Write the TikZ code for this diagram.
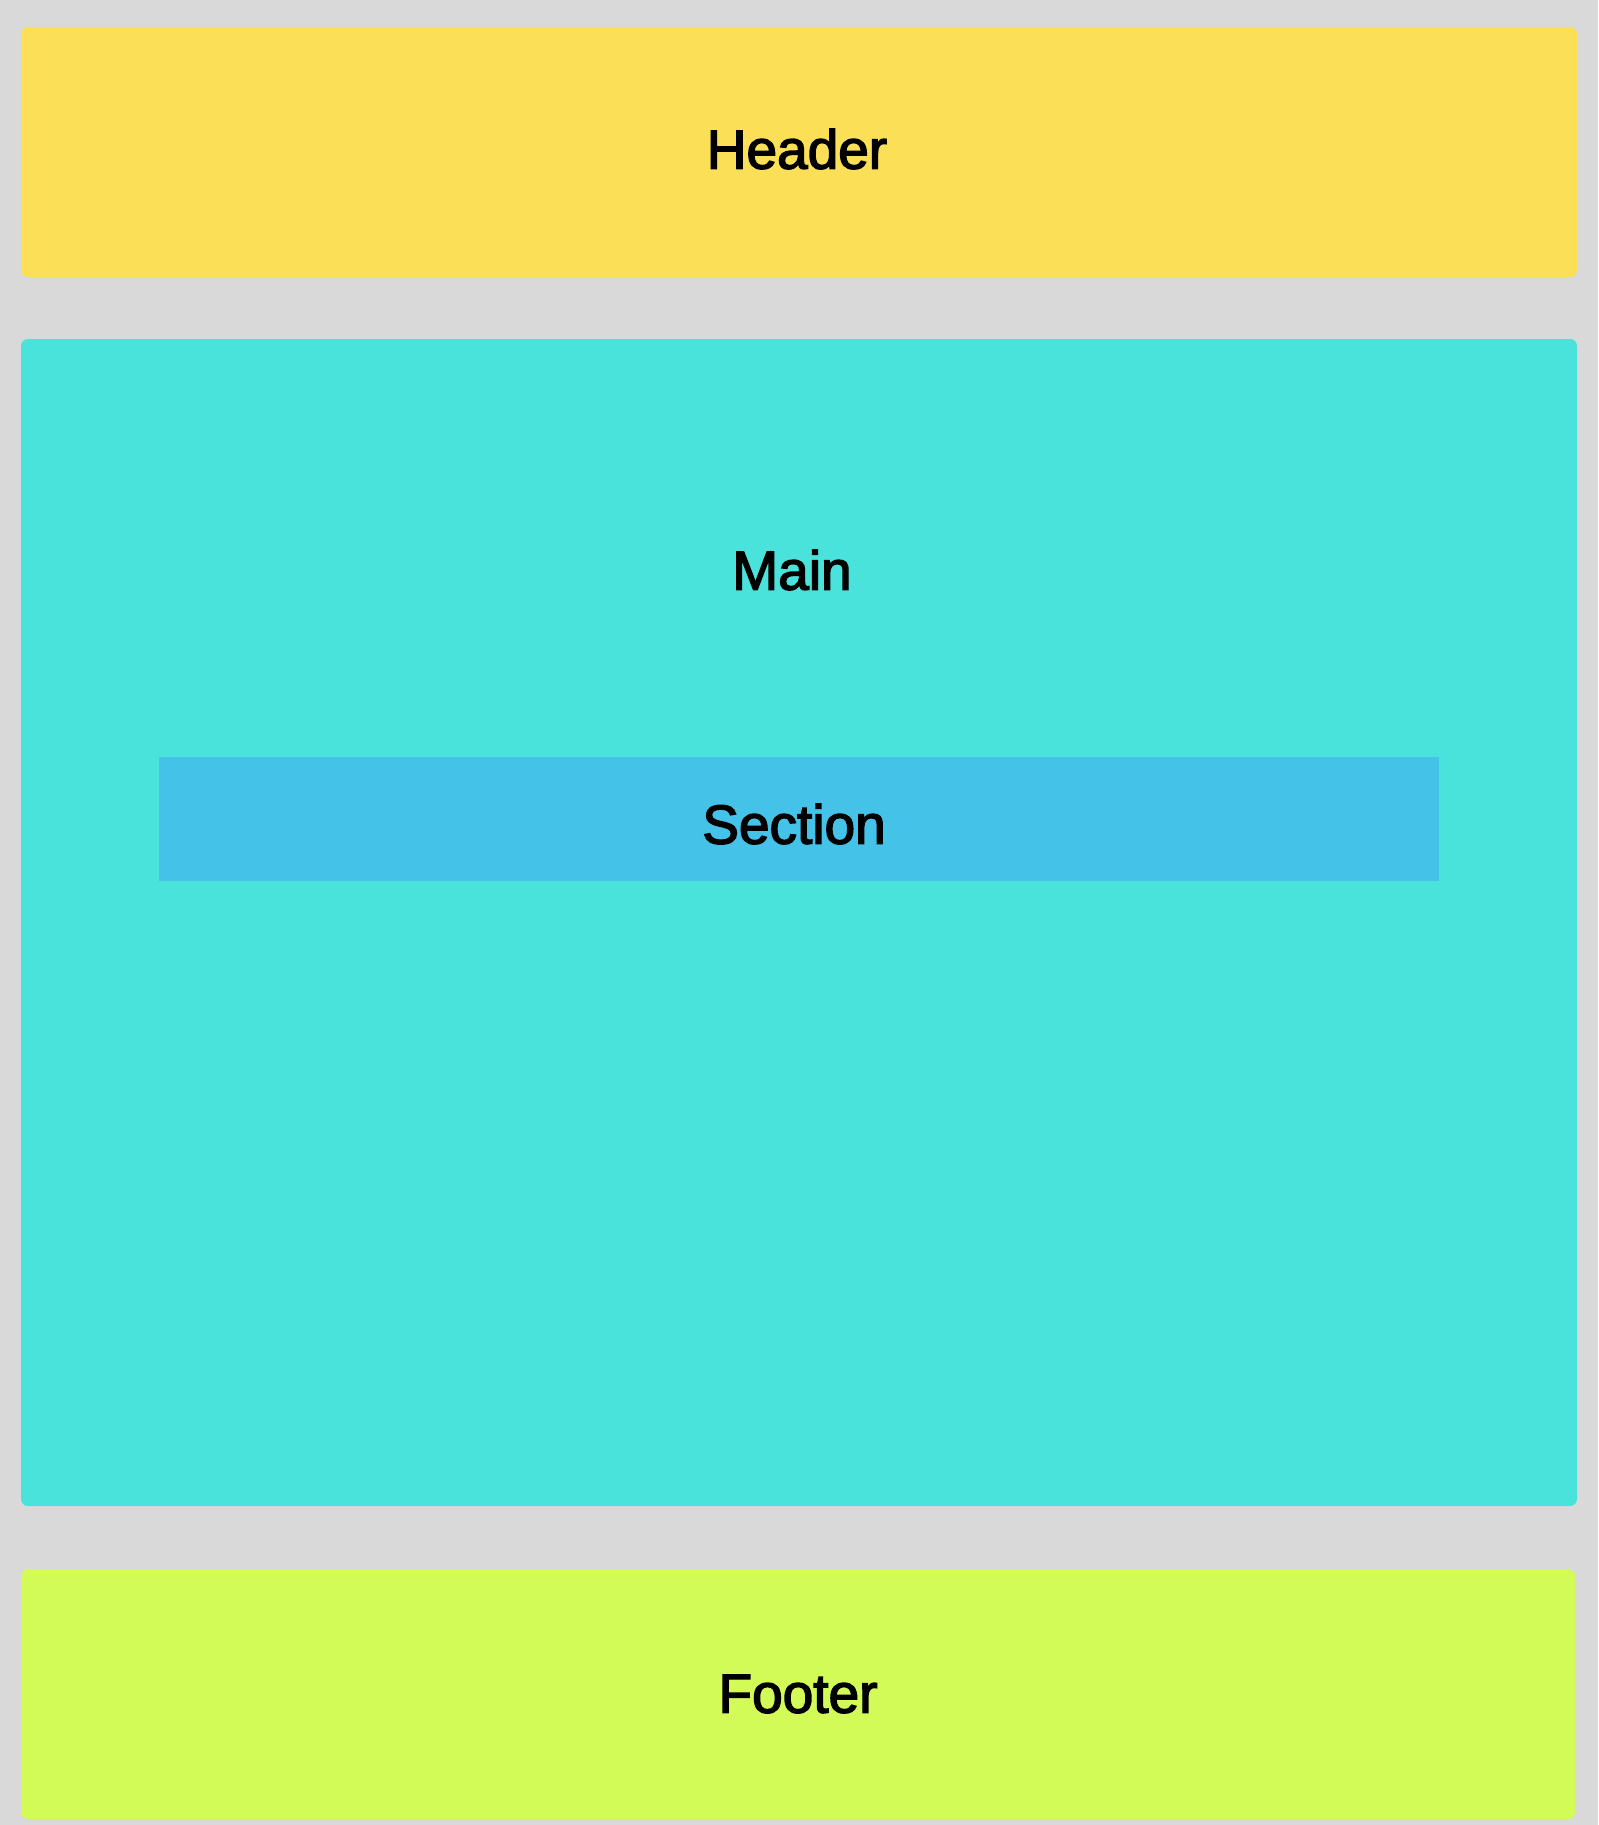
\documentclass[tikz,border=0pt]{standalone}
\usepackage{fontspec}
\setmainfont{Liberation Sans}[FakeBold=2.6]
\definecolor{bgc}{HTML}{D9D9D9}
\definecolor{hdr}{HTML}{FADF57}
\definecolor{mainc}{HTML}{4AE3DC}
\definecolor{secc}{HTML}{44C2E8}
\definecolor{ftr}{HTML}{D2FB57}
\begin{document}
\begin{tikzpicture}[x=1pt,y=-1pt,
  panel/.style={rounded corners=7pt},
  lbl/.style={inner sep=0pt,font=\fontsize{55}{60}\selectfont}]
\fill[bgc] (0,0) rectangle (1598,1825);
\useasboundingbox (0,0) rectangle (1598,1825);
\fill[hdr,panel] (21,27) rectangle (1577,277);
\fill[mainc,panel] (21,339) rectangle (1577,1506);
\fill[secc] (159,757) rectangle (1439,881);
\fill[ftr,panel] (21,1569) rectangle (1575,1819);
\node[lbl] (header) at (797,149) {Header};
\node[lbl] (main) at (792,570) {Main};
\node[lbl] (section) at (794,824) {Section};
\node[lbl] (footer) at (798,1694) {Footer};
\end{tikzpicture}
\end{document}
